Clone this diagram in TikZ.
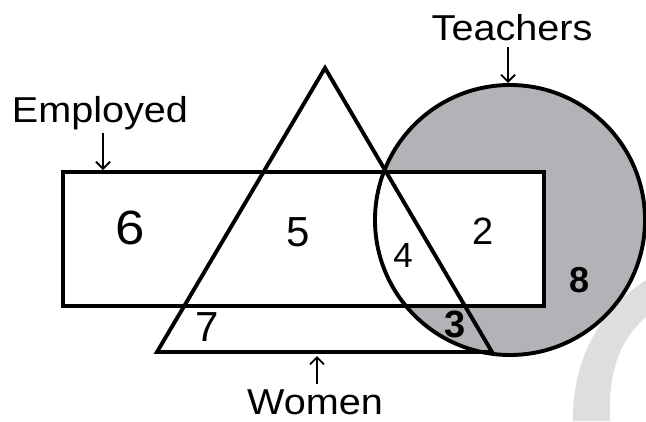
\documentclass[tikz,border=0pt]{standalone}
\usepackage{fontspec}
\setmainfont{Liberation Sans}
\usetikzlibrary{arrows.meta}
\definecolor{tgray}{RGB}{177,179,182}
\definecolor{wmark}{RGB}{222,222,222}
\definecolor{wdark}{RGB}{156,158,161}
\begin{document}
\begin{tikzpicture}[x=1pt,y=-1pt,
  shapeline/.style={line width=3.9pt, line join=miter},
  arr/.style={line width=1.8pt, -{Straight Barb[length=7pt,width=14pt,line width=1.8pt]}},
  lbl/.style={font=\fontsize{36}{36}\selectfont, anchor=base, inner sep=0pt, text depth=0pt, xscale=1.1},
  num/.style={inner sep=0pt, anchor=center}]
\useasboundingbox (0,0) rectangle (646,421);
% watermark
\def\wpath{(573,421) .. controls (572,360) and (600,310) .. (646,280) -- (646,317) .. controls (620,340) and (608,370) .. (610,421) -- cycle}
\fill[wmark] \wpath;
% teacher circle fill
\fill[tgray] (510,220) circle (135pt);
\begin{scope}
  \clip (510,220) circle (135pt);
  \fill[wdark] \wpath;
\end{scope}
% employed rectangle fill
\fill[white] (63,172) rectangle (544,306);
% outlines
\draw[shapeline] (63,172) rectangle (544,306);
\draw[shapeline] (325,68) -- (492,352) -- (157,352) -- cycle;
\draw[shapeline] (510,220) circle (135pt);
% labels
\node[lbl] (emp) at (100,122) {Employed};
\node[lbl] (tea) at (512,40) {Teachers};
\node[lbl] (wom) at (315,414) {Women};
\coordinate (empA) at (103,133);
\coordinate (empB) at (103,170);
\coordinate (teaA) at (508,47);
\coordinate (teaB) at (508,83);
\coordinate (womA) at (317,384);
\coordinate (womB) at (317,356);
\draw[arr] (empA) -- (empB);
\draw[arr] (teaA) -- (teaB);
\draw[arr] (womA) -- (womB);
% numbers
\node[num, font=\fontsize{48}{48}\selectfont, xscale=1.1] (n6) at (130,228) {6};
\node[num, font=\fontsize{42}{42}\selectfont] (n5) at (298,232) {5};
\node[num, font=\fontsize{38}{38}\selectfont] (n2) at (483,231) {2};
\node[num, font=\fontsize{35}{35}\selectfont] (n4) at (403,255) {4};
\node[num, font=\fontsize{42}{42}\selectfont] (n7) at (207,327) {7};
\node[num, font=\bfseries\fontsize{36}{36}\selectfont] (n8) at (580,280) {8};
\node[num, font=\bfseries\fontsize{38}{38}\selectfont] (n3) at (455,324) {3};
\end{tikzpicture}
\end{document}
